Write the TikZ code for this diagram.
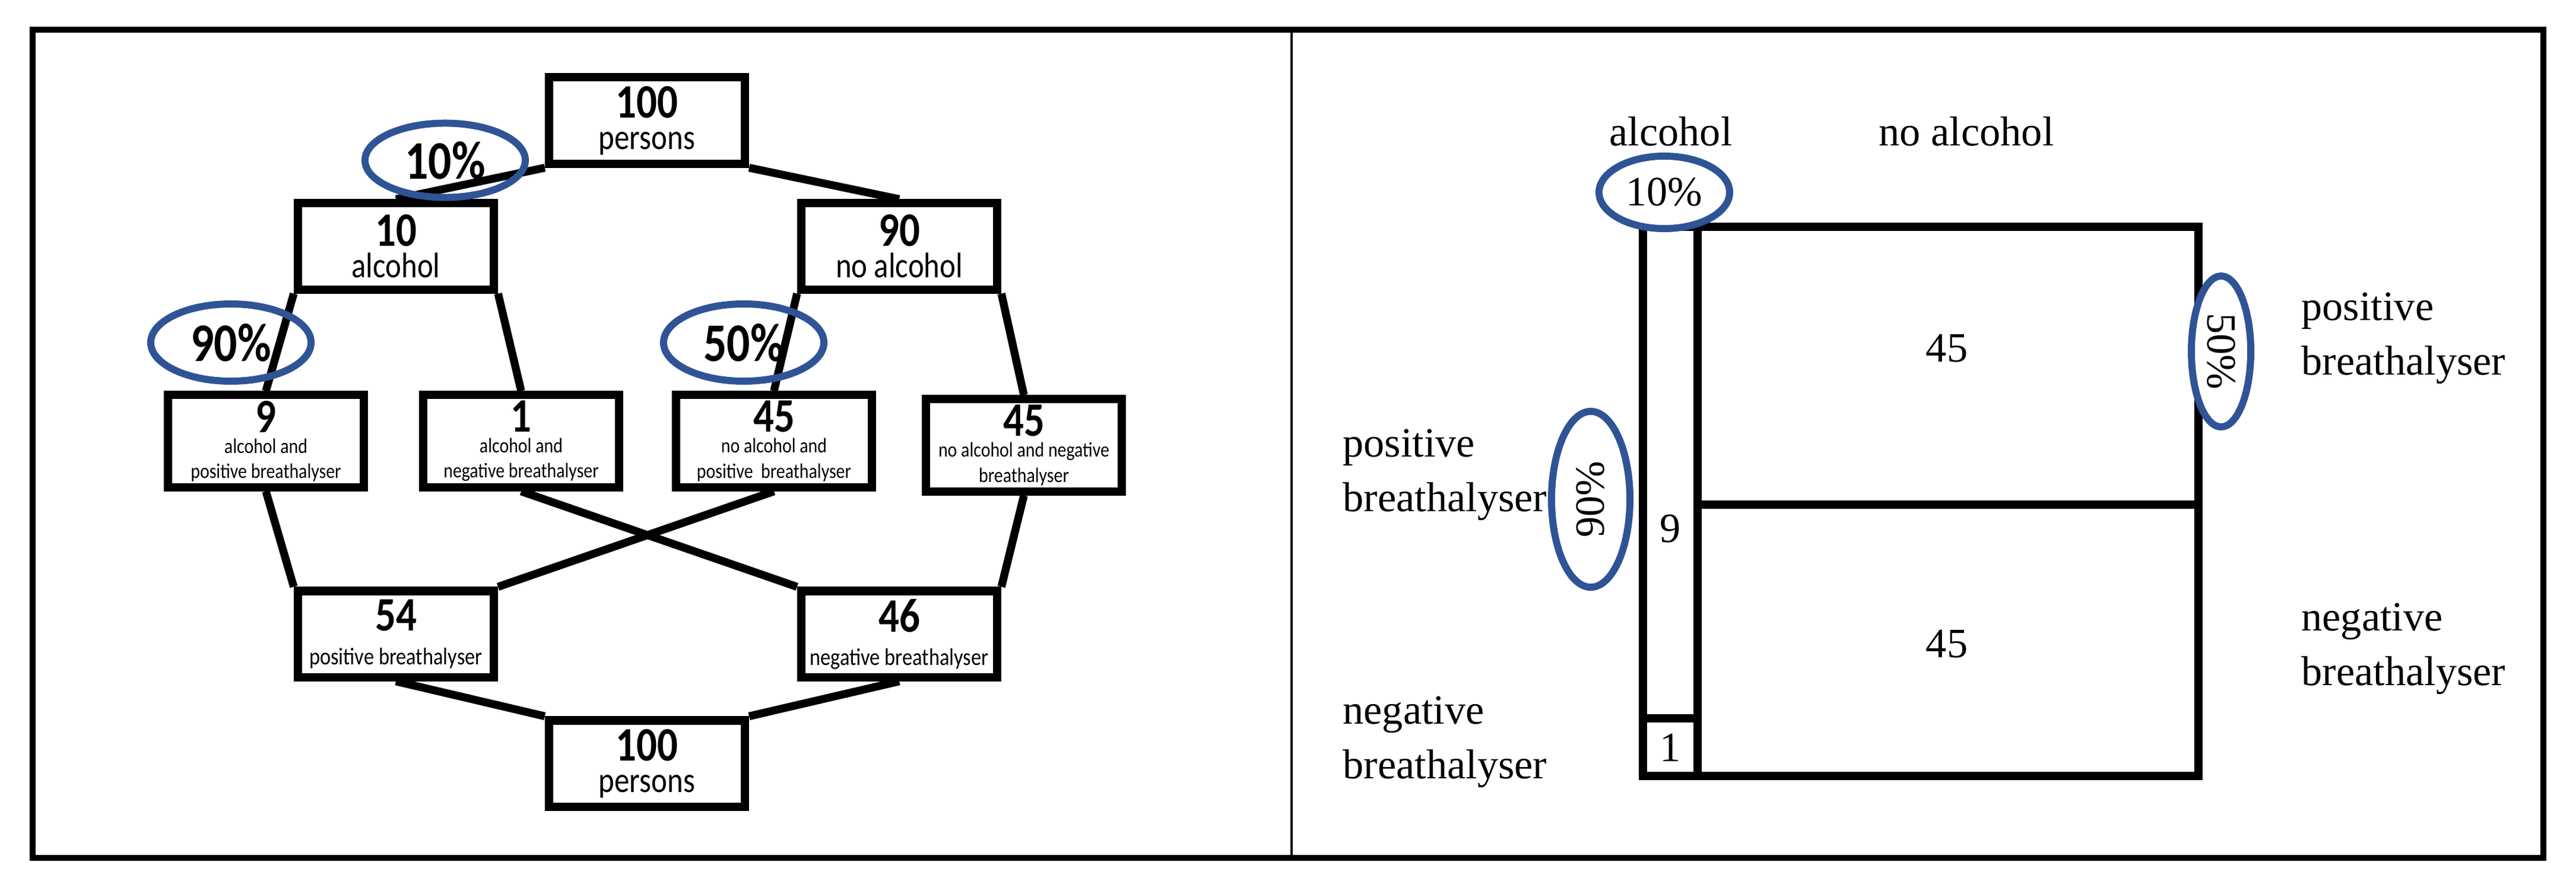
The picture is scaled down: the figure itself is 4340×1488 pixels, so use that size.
\documentclass[tikz,border=0pt]{standalone}
\usepackage{fontspec}
\setmainfont{Liberation Serif}
\newfontfamily\calf[FakeStretch=0.85]{Carlito}
\usetikzlibrary{shapes.geometric,backgrounds}
\definecolor{ovl}{RGB}{47,84,150}
\begin{document}
\begin{tikzpicture}[x=0.01cm,y=-0.01cm,
  box/.style={draw,line width=4pt,fill=white,inner sep=0pt,align=center,font=\calf,minimum width=3.3cm,minimum height=1.45cm},
  big/.style={box,minimum height=1.55cm},
  con/.style={line width=3.8pt},
  pct/.style={draw=ovl,line width=3.4pt,ellipse,inner sep=0pt},
  lbl/.style={font=\fontsize{20}{26}\selectfont,align=left}]
\useasboundingbox (0,0) rectangle (4340,1488);
\draw[line width=2.8pt] (55,50) rectangle (4285,1445);
\draw[line width=1.4pt] (2176,50) -- (2176,1445);
% left nodes
\def\nm#1{{\fontsize{23}{23}\selectfont\bfseries #1}}
\def\cap#1{{\fontsize{10}{10.5}\selectfont #1}}
\def\sub#1{{\fontsize{17}{17}\selectfont #1}}
\node[box] (t) at (1090,203) {\nm{100}\\[3pt]\sub{persons}};
\node[box] (a) at (667,415) {\nm{10}\\[3pt]\sub{alcohol}};
\node[box] (n) at (1515,415) {\nm{90}\\[3pt]\sub{no alcohol}};
\node[big] (b1) at (448,743) {\nm{9}\\[-2pt]\cap{alcohol and}\\\cap{positive breathalyser}};
\node[big] (b2) at (878,743) {\nm{1}\\[-2pt]\cap{alcohol and}\\\cap{negative breathalyser}};
\node[big] (b3) at (1304,743) {\nm{45}\\[-2pt]\cap{no alcohol and}\\\cap{positive\ \ breathalyser}};
\node[big] (b4) at (1725,750) {\nm{45}\\[-2pt]\cap{no alcohol and negative}\\\cap{breathalyser}};
\node[box] (p) at (667,1068) {\nm{54}\\[4pt]{\fontsize{11.5}{12}\selectfont positive breathalyser}};
\node[box] (q) at (1515,1068) {\nm{46}\\[4pt]{\fontsize{11.5}{12}\selectfont negative breathalyser}};
\node[box] (u) at (1090,1286) {\nm{100}\\[3pt]\sub{persons}};
\begin{scope}[on background layer]
\draw[con] (t.south west) -- (a.north);
\draw[con] (t.south east) -- (n.north);
\draw[con] (a.south west) -- (b1.north);
\draw[con] (a.south east) -- (b2.north);
\draw[con] (n.south west) -- (b3.north);
\draw[con] (n.south east) -- (b4.north);
\draw[con] (b1.south) -- (p.north west);
\draw[con] (b2.south) -- (q.north west);
\draw[con] (b3.south) -- (p.north east);
\draw[con] (b4.south) -- (q.north east);
\draw[con] (p.south) -- (u.north west);
\draw[con] (q.south) -- (u.north east);
\end{scope}
\node[pct,minimum width=2.7cm,minimum height=1.25cm,font=\calf\bfseries\fontsize{26}{26}\selectfont] (e1) at (750,270) {10\%};
\node[pct,minimum width=2.7cm,minimum height=1.3cm,font=\calf\bfseries\fontsize{26}{26}\selectfont] (e2) at (389,577) {90\%};
\node[pct,minimum width=2.7cm,minimum height=1.3cm,font=\calf\bfseries\fontsize{26}{26}\selectfont] (e3) at (1253,577) {50\%};
% right panel
\draw[line width=4pt] (2768,382) rectangle (3704,1307);
\draw[line width=4pt] (2860,382) -- (2860,1307);
\draw[line width=4pt] (2860,850) -- (3704,850);
\draw[line width=4pt] (2768,1210) -- (2860,1210);
\node[lbl] (l1) at (2815,221) {alcohol};
\node[lbl] (l2) at (3313,221) {no alcohol};
\node[lbl] (c1) at (3280,587) {45};
\node[lbl] (c2) at (3280,1085) {45};
\node[lbl] (c3) at (2814,891) {9};
\node[lbl] (c4) at (2814,1259) {1};
\node[lbl,anchor=west] (r1) at (3865,570) {positive\\breathalyser};
\node[lbl,anchor=west] (r2) at (3865,1093) {negative\\breathalyser};
\node[lbl,anchor=west] (r3) at (2250,800) {positive\\breathalyser};
\node[lbl,anchor=west] (r4) at (2250,1250) {negative\\breathalyser};
\node[pct,fill=white,minimum width=2.2cm,minimum height=1.22cm,font=\fontsize{20}{20}\selectfont] (f1) at (2804,324) {10\%};
\node[pct,fill=white,minimum width=1.32cm,minimum height=2.96cm] (f2) at (2680,841) {\rotatebox{90}{\fontsize{20}{20}\selectfont 90\%}};
\node[pct,fill=white,minimum width=1.0cm,minimum height=2.54cm] (f3) at (3742,592) {\rotatebox{-90}{\fontsize{20}{20}\selectfont 50\%}};
\end{tikzpicture}
\end{document}
